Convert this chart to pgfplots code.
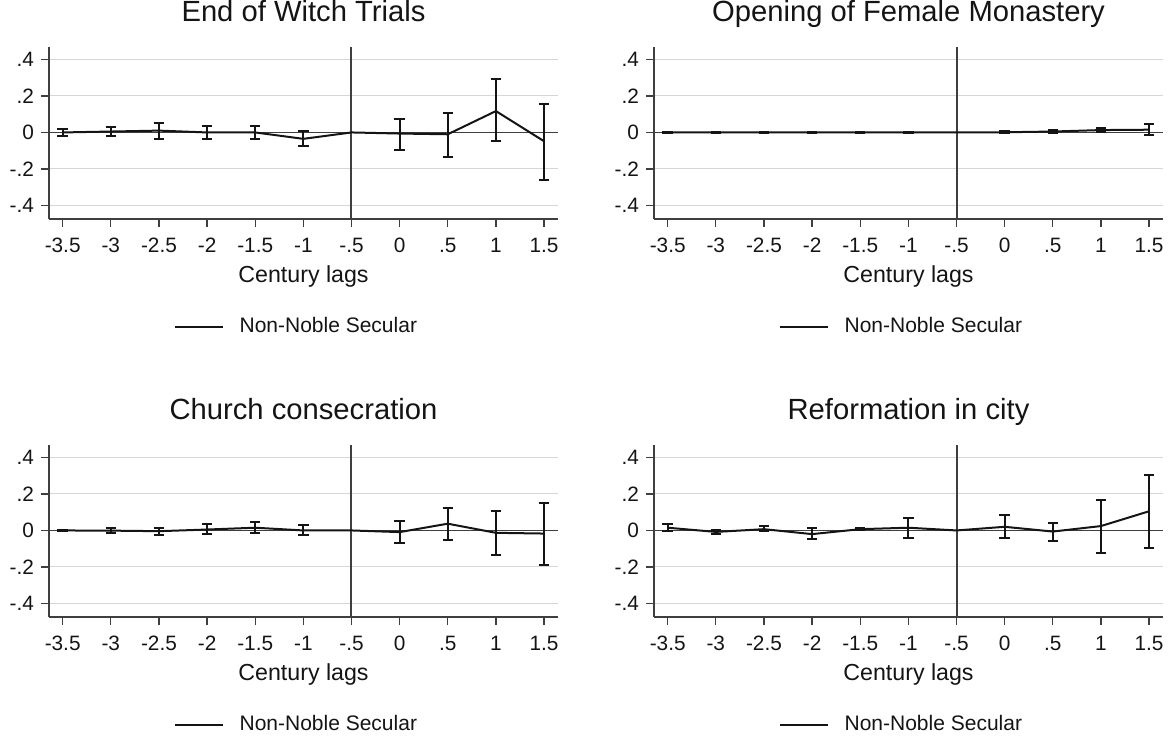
\documentclass[border=0pt]{standalone}
\usepackage{fontspec}
\setmainfont{Liberation Sans}
\usepackage{pgfplots}
\usepackage{pgfplotstable}
\pgfplotsset{compat=1.18}
\definecolor{axiscol}{HTML}{3F3F3F}
\definecolor{gridcol}{HTML}{D6D6D6}
\definecolor{ink}{HTML}{141414}

% x = century lag, y = estimate, lo/hi = confidence interval
\pgfplotstableread{
x     y      lo      hi
-3.5  0.000  -0.017  0.018
-3    0.005  -0.020  0.030
-2.5  0.010  -0.037  0.053
-2    0.000  -0.037  0.035
-1.5  0.000  -0.037  0.033
-1   -0.035  -0.075  0.006
-0.5  0.000   0.000  0.000
0    -0.006  -0.094  0.075
0.5  -0.010  -0.134  0.106
1     0.117  -0.048  0.292
1.5  -0.048  -0.259  0.156
}\witch
\pgfplotstableread{
x     y      lo      hi
-3.5  0.000  -0.003  0.003
-3    0.000  -0.002  0.002
-2.5  0.000  -0.002  0.002
-2    0.000  -0.002  0.002
-1.5  0.000  -0.003  0.003
-1    0.000  -0.004  0.004
-0.5  0.000   0.000  0.000
0     0.001  -0.004  0.006
0.5   0.005  -0.001  0.011
1     0.013   0.000  0.026
1.5   0.015  -0.013  0.044
}\monastery
\pgfplotstableread{
x     y      lo      hi
-3.5  0.000  -0.005  0.005
-3   -0.001  -0.013  0.011
-2.5 -0.004  -0.026  0.015
-2    0.005  -0.020  0.033
-1.5  0.015  -0.013  0.046
-1    0.000  -0.026  0.029
-0.5  0.000   0.000  0.000
0    -0.009  -0.066  0.050
0.5   0.037  -0.053  0.123
1    -0.013  -0.132  0.106
1.5  -0.017  -0.190  0.150
}\church
\pgfplotstableread{
x     y      lo      hi
-3.5  0.015  -0.004  0.037
-3   -0.008  -0.022  0.004
-2.5  0.007  -0.004  0.022
-2   -0.020  -0.048  0.015
-1.5  0.007   0.002  0.012
-1    0.015  -0.042  0.070
-0.5  0.000   0.000  0.000
0     0.020  -0.042  0.083
0.5  -0.006  -0.057  0.042
1     0.024  -0.121  0.169
1.5   0.105  -0.095  0.306
}\reform

\pgfplotsset{
  panel/.style={
    scale only axis, width=254.5pt, height=86pt, anchor=south west,
    xmin=-3.642, xmax=1.645, ymin=-0.474, ymax=0.468,
    axis lines=left, axis line style={-, axiscol, line width=0.75pt},
    tick align=outside, major tick length=4pt,
    tick style={axiscol, line width=0.6pt},
    xtick={-3.5,-3,-2.5,-2,-1.5,-1,-0.5,0,0.5,1,1.5},
    xticklabels={-3.5,-3,-2.5,-2,-1.5,-1,-.5,0,.5,1,1.5},
    ytick={-0.4,-0.2,0,0.2,0.4}, yticklabels={-.4,-.2,0,.2,.4},
    ticklabel style={font=\fontsize{10.4}{12}\selectfont, text=ink},
    xticklabel style={yshift=-1.9pt},
    ymajorgrids, grid style={gridcol, line width=0.5pt},
    title style={at={(0.5,1)}, anchor=base, yshift=6.85pt,
      font=\fontsize{14.6}{17}\selectfont, text=ink},
    xlabel={Century lags},
    xlabel style={at={(axis description cs:0.5,0)}, anchor=base, yshift=-31.75pt,
      font=\fontsize{11.6}{14}\selectfont, text=ink},
    legend style={draw=none, fill=none, at={(0.5,-0.627)}, anchor=center,
      xshift=-3pt, font=\fontsize{10.5}{12}\selectfont, text=ink},
    legend image code/.code={
      \draw[ink, line width=0.85pt] (0pt,0pt) -- (24pt,0pt);},
  },
  est/.style={ink, line width=1pt, mark=none},
  ci/.style={ink, line width=1pt, only marks, mark=none, mark size=0pt, forget plot,
    skip coords between index={6}{7},
    error bars/.cd, y dir=both, y explicit,
    error bar style={ink, line width=1pt},
    error mark options={rotate=90, mark size=2.6pt, line width=1pt}},
}

\newcommand{\panel}[3]{%
  \begin{axis}[panel, at={#1}, title={#2}]
    \draw[axiscol, line width=0.8pt] (axis cs:-3.642,0) -- (axis cs:1.645,0);
    \draw[axiscol, line width=1pt] (axis cs:-0.5,-0.474) -- (axis cs:-0.5,0.468);
    \addplot[ci] table[x=x, y=y, y error plus expr=\thisrow{hi}-\thisrow{y},
      y error minus expr=\thisrow{y}-\thisrow{lo}] {#3};
    \addplot[est] table[x=x, y=y] {#3};
    \addlegendentry{\hspace*{6pt}Non-Noble Secular}
  \end{axis}}

\begin{document}
\begin{tikzpicture}
  \useasboundingbox (0pt,0pt) rectangle (586pt,369pt);
  \panel{(24.5pt,259.5pt)}{End of Witch Trials}{\witch}
  \panel{(327pt,259.5pt)}{Opening of Female Monastery}{\monastery}
  \panel{(24.5pt,60.5pt)}{Church consecration}{\church}
  \panel{(327pt,60.5pt)}{Reformation in city}{\reform}
\end{tikzpicture}
\end{document}
